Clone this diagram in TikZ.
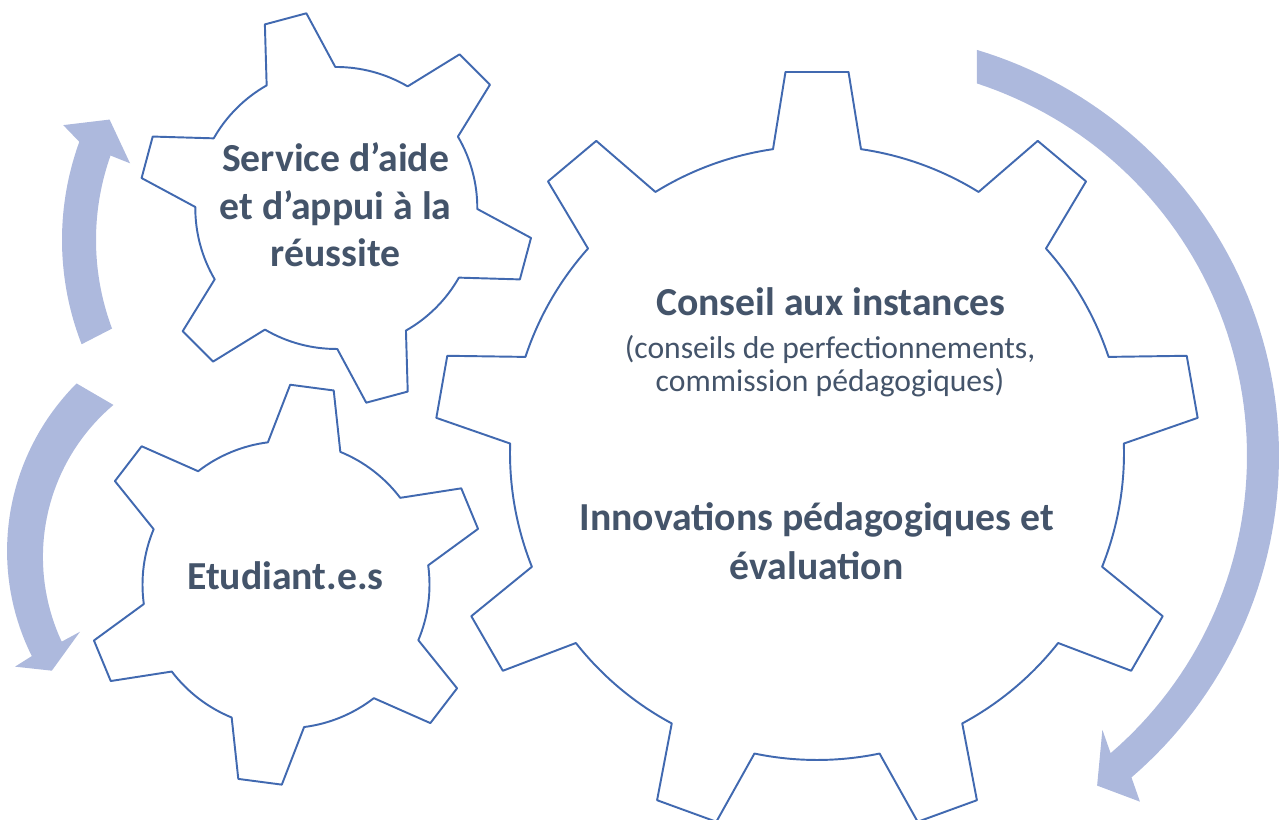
\documentclass[tikz,border=0pt]{standalone}
\usepackage{fontspec}
\setmainfont{Carlito}
\usetikzlibrary{calc}
\definecolor{gearblue}{HTML}{4169B0}
\definecolor{arrowblue}{HTML}{ADB9DD}
\definecolor{txtcol}{HTML}{44546A}
\tikzset{
  gearline/.style={draw=gearblue, line width=1.1pt, fill=white, line join=round},
  arrowfill/.style={fill=arrowblue, draw=none},
  bigtxt/.style={text=txtcol, font=\fontsize{22.6}{27}\selectfont\bfseries, align=center, inner sep=0pt, anchor=base},
  smalltxt/.style={text=txtcol, font=\fontsize{18}{18.8}\selectfont, align=center, inner sep=0pt, anchor=base}
}
% #1 name, #2 cx, #3 cy, #4 teeth, #5 first tooth angle, #6 root radius, #7 tip radius, #8 base half-angle, #9 tip half-angle
\newcommand\drawgear[9]{%
  \coordinate (#1) at (#2,#3);
  \begin{scope}[shift={(#2,#3)}]
    \pgfmathsetmacro\gstep{360/#4}
    \pgfmathtruncatemacro\glast{#4-1}
    \pgfmathsetmacro\grcm{#6*0.02}
    \draw[gearline] ({#5-#8}:#6)
      \foreach \k in {0,...,\glast} {
        -- ({#5+\k*\gstep-#9}:#7) -- ({#5+\k*\gstep+#9}:#7) -- ({#5+\k*\gstep+#8}:#6)
        arc[start angle={#5+\k*\gstep+#8}, end angle={#5+(\k+1)*\gstep-#8}, radius=\grcm cm]
      } -- cycle;
  \end{scope}}
\begin{document}
\begin{tikzpicture}[x=0.02cm,y=0.02cm]
\useasboundingbox (0,0) rectangle (1285,820);
\clip (0,0) rectangle (1285,820);

% arrows
\begin{scope}[shift={(855,364)}]
  \fill[arrowfill] plot[domain=73.3:-49.3, samples=80, variable=\t] (\t:424)
    -- (-50.5:448) -- (-53.7:409) -- (-47.9:369)
    -- plot[domain=-49.3:71.9, samples=80, variable=\t] (\t:392) -- cycle;
\end{scope}
\begin{scope}[shift={(349,580)}]
  \fill[arrowfill] plot[domain=201.3:160, samples=40, variable=\t] (\t:287)
    -- (158.1:308) -- (153.3:268) -- (160.7:232)
    -- plot[domain=160.5:200.5, samples=40, variable=\t] (\t:253) -- cycle;
\end{scope}
\begin{scope}[shift={(243,266)}]
  \fill[arrowfill] plot[domain=134.3:205.8, samples=40, variable=\t] (\t:{238.3+(234.6-238.3)*(\t-134.3)/(205.8-134.3)})
    -- (206.3:254.3) -- (211.4:224) -- (205.5:180.6)
    -- plot[domain=205.8:131, samples=40, variable=\t] (\t:{201.4+(197.5-201.4)*(\t-205.8)/(131-205.8)}) -- cycle;
\end{scope}

% gears
\drawgear{GL}{817}{367}{9}{90}{307}{382.3}{8.24}{4.73}
\drawgear{GT}{336.3}{612}{6}{105}{141}{197}{14.6}{6.26}
\drawgear{GB}{286}{235.3}{6}{82.5}{143.5}{200}{14.75}{6.3}

% texts (base anchor = baseline of the last line)
\node[bigtxt] (svc) at (335.6,553.3) {Service d’aide\\et d’appui à la\\réussite};
\node[bigtxt] (etu) at (285.5,230) {Etudiant.e.s};
\node[bigtxt] (cons) at (830.8,504) {Conseil aux instances};
\node[smalltxt] (consd) at (830,428) {(conseils de perfectionnements,\\commission pédagogiques)};
\node[bigtxt, font=\fontsize{22.6}{28}\selectfont\bfseries] (innov) at (816.6,240) {Innovations pédagogiques et\\évaluation};
\end{tikzpicture}
\end{document}
